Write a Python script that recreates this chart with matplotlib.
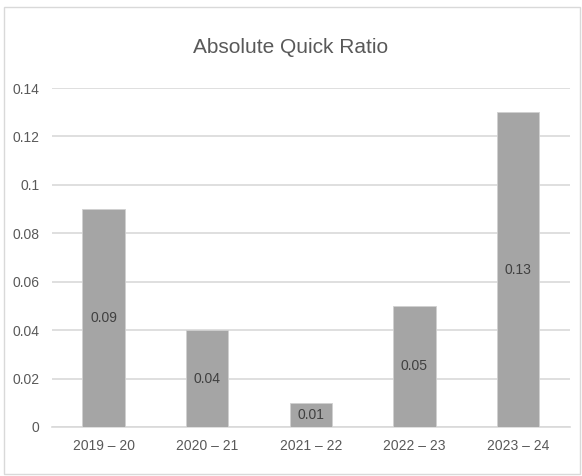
import matplotlib
matplotlib.use("Agg")
import matplotlib.pyplot as plt

categories = ["2019 – 20", "2020 – 21", "2021 – 22", "2022 – 23", "2023 – 24"]
values = [0.09, 0.04, 0.01, 0.05, 0.13]
labels = ["0.09", "0.04", "0.01", "0.05", "0.13"]
yticks = [0, 0.02, 0.04, 0.06, 0.08, 0.1, 0.12, 0.14]
yticklabels = ["0", "0.02", "0.04", "0.06", "0.08", "0.1", "0.12", "0.14"]

plt.rcParams['font.family'] = ['Liberation Sans', 'DejaVu Sans']

txt = "#595959"
fig = plt.figure(figsize=(5.82, 4.76), dpi=100)
ax = fig.add_axes([0.089, 0.103, 0.89, 0.712])
x = range(len(categories))
bars = ax.bar(x, values, width=0.41, color="#A5A5A5", edgecolor="#D0D0D0", linewidth=0.6, zorder=3)
for b, lab in zip(bars, labels):
    ax.text(b.get_x() + b.get_width() / 2, b.get_height() / 2, lab, ha="center", va="center",
            fontsize=10, color="#404040", zorder=4)
ax.set_ylim(0, 0.14)
ax.set_xlim(-0.5, 4.5)
ax.set_yticks(yticks)
ax.set_yticklabels(yticklabels)
ax.set_xticks(list(x))
ax.set_xticklabels(categories)
ax.yaxis.grid(True, color="#D9D9D9", linewidth=1.2, zorder=0)
for s in ["top", "right", "left"]:
    ax.spines[s].set_visible(False)
ax.spines["bottom"].set_color("#D9D9D9")
ax.spines["bottom"].set_linewidth(1.2)
ax.tick_params(axis="both", length=0, colors=txt, labelsize=10)
ax.tick_params(axis="y", pad=9)
ax.tick_params(axis="x", pad=9)
fig.text(0.5, 0.9, "Absolute Quick Ratio", ha="center", va="center", fontsize=15, color=txt)
fig.patches.append(plt.Rectangle((0.007, 0.005), 0.99, 0.98, transform=fig.transFigure,
                                 fill=False, edgecolor="#D9D9D9", linewidth=1))
fig.savefig("out.png", dpi=100)
